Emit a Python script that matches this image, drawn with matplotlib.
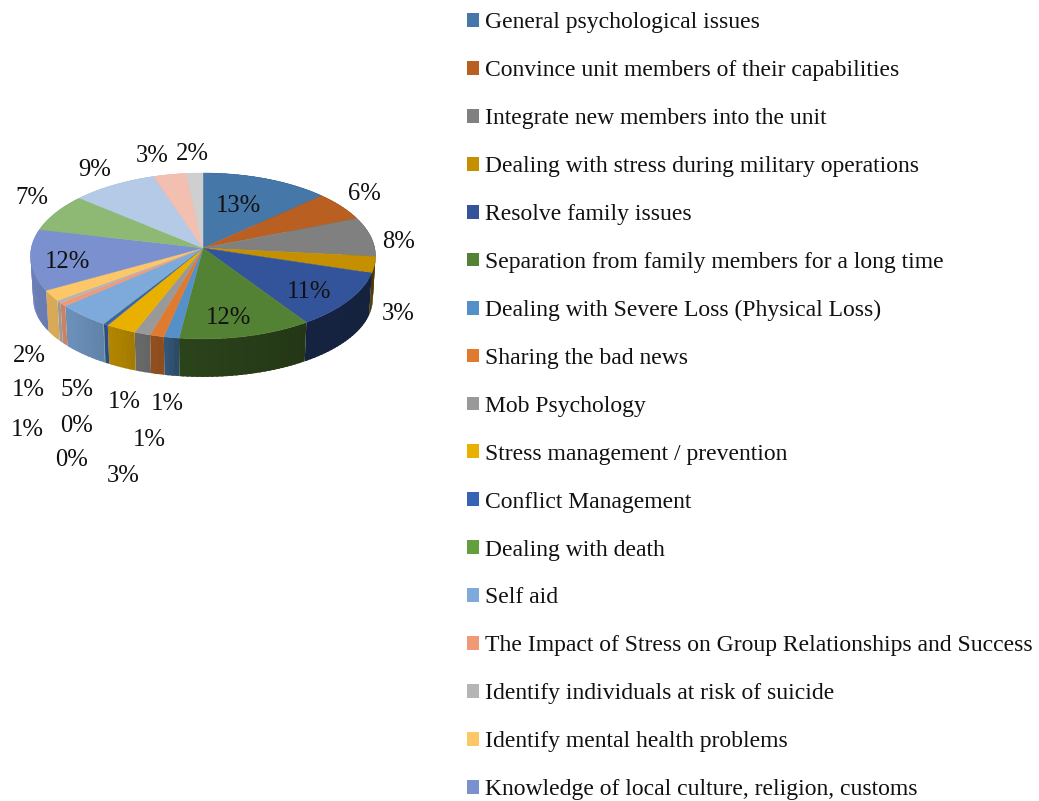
import numpy as np
import matplotlib
matplotlib.use("Agg")
import matplotlib.pyplot as plt
from matplotlib.patches import Patch
from matplotlib.colors import to_rgb

# ---- data ----
legend_labels = [
    "General psychological issues",
    "Convince unit members of their capabilities",
    "Integrate new members into the unit",
    "Dealing with stress during military operations",
    "Resolve family issues",
    "Separation from family members for a long time",
    "Dealing with Severe Loss (Physical Loss)",
    "Sharing the bad news",
    "Mob Psychology",
    "Stress management / prevention",
    "Conflict Management",
    "Dealing with death",
    "Self aid",
    "The Impact of Stress on Group Relationships and Success",
    "Identify individuals at risk of suicide",
    "Identify mental health problems",
    "Knowledge of local culture, religion, customs",
]
shares = [13.2, 5.8, 7.7, 3.2, 10.9, 11.4, 1.3, 1.2, 1.4, 2.6, 0.4, 0.05,
          4.6, 0.7, 0.5, 2.1, 11.9, 7.5, 8.8, 3.4, 1.7]
share_labels = ["13%", "6%", "8%", "3%", "11%", "12%", "1%", "1%", "1%", "3%", "0%", "0%",
                "5%", "1%", "1%", "2%", "12%", "7%", "9%", "3%", "2%"]
colors = ["#4578a8", "#b95f22", "#808080", "#c49000", "#33549a", "#548235", "#5590c8",
          "#e07a2e", "#999999", "#eab000", "#3763b5", "#659e3c", "#7eaadb", "#f09a75",
          "#b5b5b5", "#fdc666", "#7a90cf", "#8db974", "#b4cae6", "#f2bfb1", "#cfcfcf"]
label_xy = [(238, 203), (364, 191), (399, 240), (398, 311), (309, 289), (228, 316),
            (167, 401), (124, 399), (149, 438), (123, 473), (72, 458), (77, 423),
            (77, 388), (27, 428), (28, 388), (29, 353), (67, 259), (32, 196),
            (95, 167), (152, 153), (192, 152)]

# ---- geometry / style ----
CX, TOP_CY, A, B, K = 203.0, 248.0, 171.7, 82.2, 0.096
BOT_CY, A2, B2 = 291.4, 169.0, 77.3
shade_ang = [90, 110, 147, 188, 192, 207, 225, 250, 290]
shade_val = [.42, .40, .42, .52, .62, .74, .84, .87, .90]


def rim(theta, cy, a, b):
    x, y = np.sin(theta), np.cos(theta)
    w = 1 + K * y
    return CX + a * x / w, cy - b * y / w


fig = plt.figure(figsize=(10.39, 8.01), dpi=100)
ax = fig.add_axes([0, 0, 1, 1])
ax.set_xlim(0, 1039)
ax.set_ylim(801, 0)
ax.axis("off")

edges = np.cumsum([0] + shares) / sum(shares) * 2 * np.pi

# side wall: overlapping strips, each painted over the tail of the previous one
for i, c in enumerate(colors):
    t0, t1 = edges[i], edges[i + 1]
    n = max(2, int(np.degrees(t1 - t0) / 1.5) + 1)
    ts = np.linspace(t0, t1, n)
    step = np.radians(1.0)
    for j, (a0, a1) in enumerate(zip(ts[:-1], ts[1:])):
        s = np.interp(np.degrees((a0 + a1) / 2), shade_ang, shade_val)
        col = tuple(np.array(to_rgb(c)) * s)
        seg = np.array([a0, a1 + (step if j < n - 2 else 0)])
        xt, yt = rim(seg, TOP_CY, A, B)
        xb, yb = rim(seg[::-1], BOT_CY, A2, B2)
        ax.fill(np.r_[xt, xb], np.r_[yt, yb], facecolor=col, edgecolor="none", lw=0, zorder=2)

# top face
for i, c in enumerate(colors):
    ts = np.linspace(edges[i], edges[i + 1], max(3, int(np.degrees(edges[i + 1] - edges[i])) + 2))
    xt, yt = rim(ts, TOP_CY, A, B)
    ax.fill(np.r_[CX, xt], np.r_[TOP_CY, yt], color=c, lw=0.3, zorder=3)

FONT = ["Liberation Serif"]
for s, (x, y) in zip(share_labels, label_xy):
    ax.text(x, y + 2.5, s, ha="center", va="center", fontsize=17.7, family=FONT, color="#111111", zorder=5)

handles = [Patch(facecolor=c, edgecolor="none") for c in colors[:len(legend_labels)]]
leg = ax.legend(handles, legend_labels, loc="upper left", bbox_to_anchor=(467 / 1039, 1 - 12.3 / 801),
                bbox_transform=ax.transAxes, frameon=False, borderpad=0, borderaxespad=0,
                prop={"family": "Liberation Serif", "size": 16.97}, handlelength=0.53,
                handleheight=0.53, handletextpad=0.23, labelspacing=1.142)
for t in leg.get_texts():
    t.set_color("#111111")

fig.savefig("out.png", dpi=100, facecolor="white")
